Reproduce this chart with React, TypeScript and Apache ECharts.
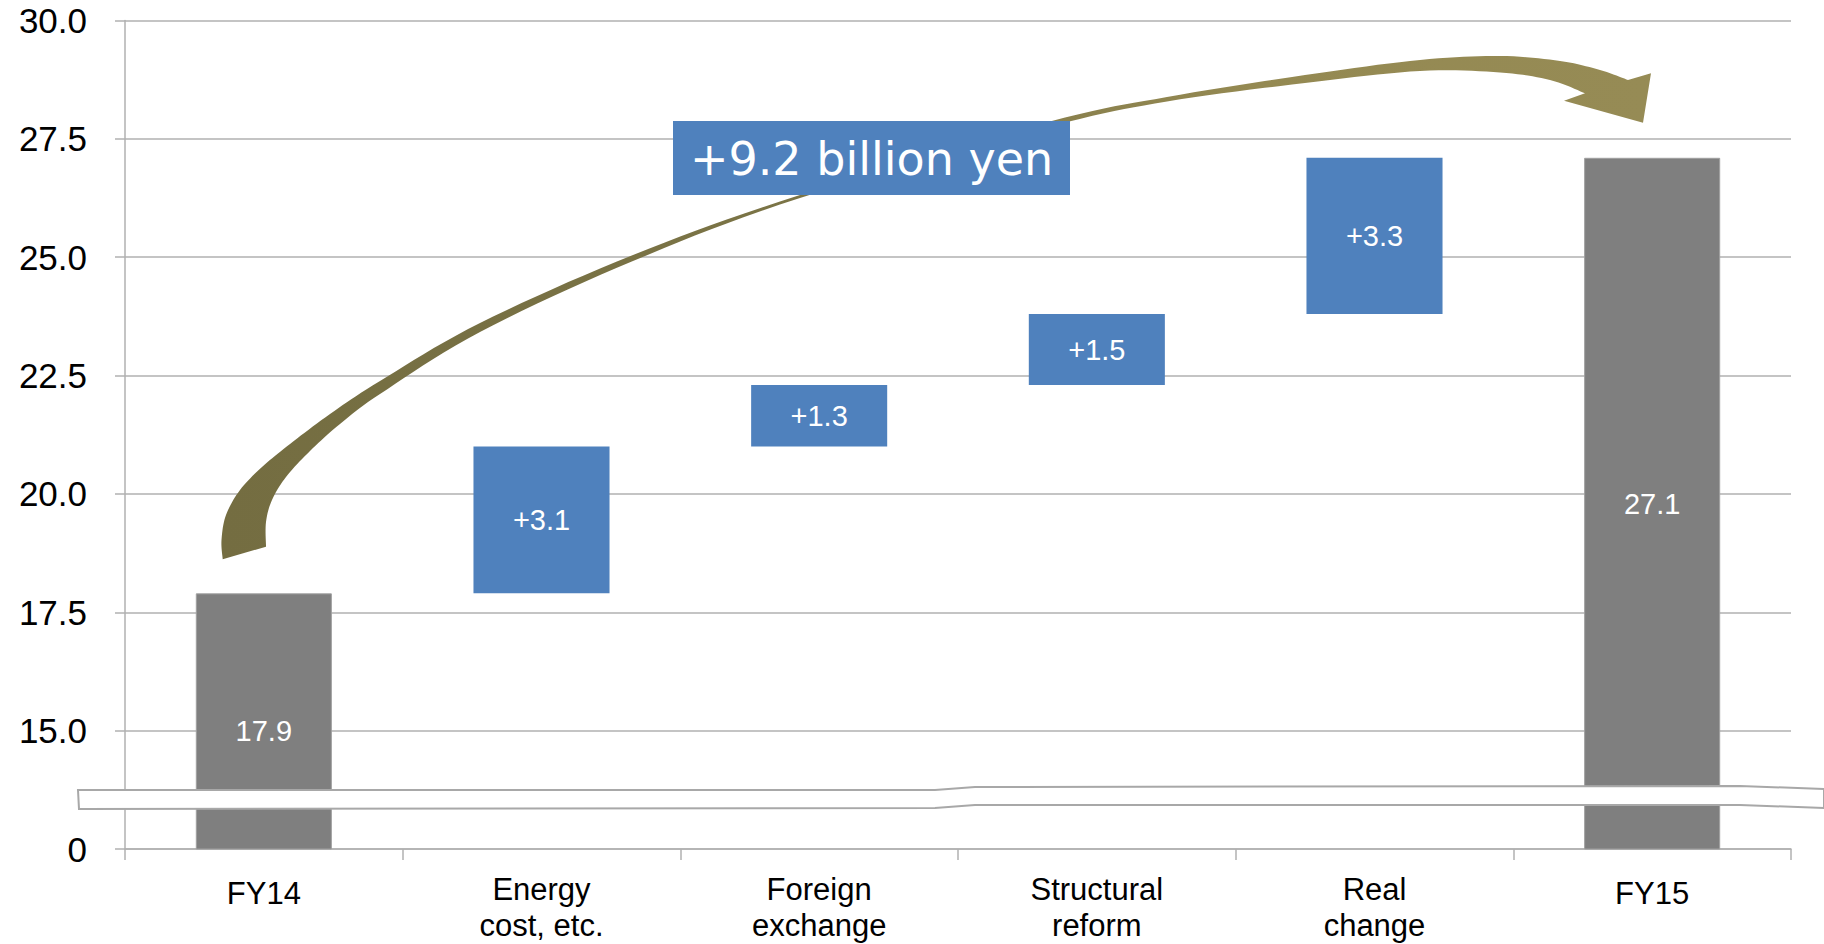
import { useEffect, useRef } from "react";
import * as echarts from "echarts";

// ---- data ----
const categories = [
  "FY14",
  "Energy\ncost, etc.",
  "Foreign\nexchange",
  "Structural\nreform",
  "Real\nchange",
  "FY15",
];
const startTotal = 17.9;
const changes = [3.1, 1.3, 1.5, 3.3];
const endTotal = 27.1;
const yTickLabels = ["0", "15.0", "17.5", "20.0", "22.5", "25.0", "27.5", "30.0"];
const annotationText = "+9.2 billion yen";

// ---- derived series for the waterfall ----
const visibleValues = [startTotal, ...changes, endTotal];
const baseValues: number[] = [0];
{
  let acc = startTotal;
  for (const c of changes) {
    baseValues.push(Math.round(acc * 10) / 10);
    acc += c;
  }
  baseValues.push(0);
}
const isTotal = (i: number) => i === 0 || i === visibleValues.length - 1;

const GRAY = "#7F7F7F";
const BLUE = "#4F81BD";
const GRID_C = "#B0B0B0";
const FONT = "'Liberation Sans', Arial, sans-serif";

// decorative arrow outline (pixel space), smoothed with Catmull-Rom
const arrowUpper: number[][] = [
  [222.7, 559.3], [221.5, 540], [226, 515], [240, 490], [262, 467], [290, 444],
  [330, 414], [380, 381], [480, 323], [633, 255], [800, 195], [1048, 122],
  [1167, 97], [1305, 75], [1420, 60], [1500, 56], [1560, 61], [1600, 70], [1628, 80],
];
const arrowHead: number[][] = [[1651, 73.3], [1643, 122.7], [1564, 100.7]];
const arrowLower: number[][] = [
  [1585, 93.3], [1550, 80], [1500, 72.5], [1420, 71], [1305, 83], [1167, 101.5],
  [1048, 127], [800, 198], [633, 261], [480, 332], [380, 394], [340, 424],
  [310, 451], [286, 477], [272, 500], [266, 522], [266, 546.7],
];

function spline(pts: number[][], n = 10): number[][] {
  const out: number[][] = [];
  for (let i = 0; i < pts.length - 1; i++) {
    const p0 = pts[Math.max(i - 1, 0)];
    const p1 = pts[i];
    const p2 = pts[i + 1];
    const p3 = pts[Math.min(i + 2, pts.length - 1)];
    for (let k = 0; k < n; k++) {
      const t = k / n;
      const t2 = t * t;
      const t3 = t2 * t;
      const f = (a: number, b: number, c: number, d: number) =>
        0.5 * (2 * b + (-a + c) * t + (2 * a - 5 * b + 4 * c - d) * t2 + (-a + 3 * b - 3 * c + d) * t3);
      out.push([f(p0[0], p1[0], p2[0], p3[0]), f(p0[1], p1[1], p2[1], p3[1])]);
    }
  }
  out.push(pts[pts.length - 1]);
  return out;
}

// axis break band
const breakBand: number[][] = [
  [78, 790], [935, 790], [975, 787], [1740, 786], [1824, 789],
  [1824, 808], [1740, 805], [975, 805], [935, 808], [79, 809],
];

export default function App() {
  const ref = useRef<HTMLDivElement>(null);

  useEffect(() => {
    if (!ref.current) return;
    const chart = echarts.init(ref.current, undefined, { renderer: "svg" });

    const arrowPoints = [...spline(arrowUpper), ...arrowHead, ...spline(arrowLower)];

    chart.setOption({
      animation: false,
      backgroundColor: "#ffffff",
      grid: {
        left: 125,
        right: 33,
        top: 20.5,
        bottom: 95,
        containLabel: false,
        outerBoundsMode: "none",
      },
      xAxis: {
        type: "category",
        data: categories,
        axisLine: { show: true, lineStyle: { color: GRID_C, width: 1.5 } },
        axisTick: { show: true, length: 11, lineStyle: { color: GRID_C, width: 1.5 } },
        axisLabel: {
          color: "#000",
          fontSize: 31,
          fontFamily: FONT,
          lineHeight: 36,
          margin: 22,
          interval: 0,
          formatter: (v: string) => (v.indexOf("\n") >= 0 ? v : "{s|" + v + "}"),
          rich: {
            s: {
              color: "#000",
              fontSize: 31,
              fontFamily: FONT,
              lineHeight: 36,
              padding: [8, 0, 0, 0],
            },
          },
        },
      },
      yAxis: {
        type: "value",
        min: 12.5,
        max: 30,
        interval: 2.5,
        axisLine: { show: true, lineStyle: { color: GRID_C, width: 1.5 } },
        axisTick: { show: true, length: 10, lineStyle: { color: GRID_C, width: 1.5 } },
        splitLine: { show: true, lineStyle: { color: GRID_C, width: 1.5 } },
        axisLabel: {
          color: "#000",
          fontSize: 35,
          fontFamily: FONT,
          margin: 38,
          formatter: (v: number, i: number) =>
            yTickLabels[i] !== undefined ? yTickLabels[i] : v.toFixed(1),
        },
      },
      series: [
        {
          type: "bar",
          stack: "w",
          silent: true,
          barWidth: "49%",
          itemStyle: { color: "transparent" },
          data: baseValues,
        },
        {
          type: "bar",
          stack: "w",
          barWidth: "49%",
          data: visibleValues.map((v, i) => ({
            value: v,
            itemStyle: isTotal(i)
              ? { color: GRAY, borderColor: "#A0A0A0", borderWidth: 1 }
              : { color: BLUE },
            label: i === 0 ? { offset: [0, 10] } : undefined,
          })),
          label: {
            show: true,
            position: "inside",
            color: "#fff",
            fontSize: 29,
            fontFamily: FONT,
            formatter: (p: any) =>
              isTotal(p.dataIndex) ? p.value.toFixed(1) : "+" + p.value.toFixed(1),
          },
        },
      ],
      graphic: [
        {
          type: "polygon",
          z: 100,
          shape: { points: breakBand },
          style: { fill: "#ffffff", stroke: "#A8A8A8", lineWidth: 2 },
        },
        {
          type: "polygon",
          z: 101,
          shape: { points: arrowPoints },
          style: {
            fill: {
              type: "linear",
              x: 0,
              y: 0,
              x2: 1,
              y2: 0,
              colorStops: [
                { offset: 0, color: "#746D41" },
                { offset: 0.4, color: "#7B7446" },
                { offset: 0.72, color: "#948952" },
                { offset: 1, color: "#968B55" },
              ],
            },
          },
        },
        {
          type: "rect",
          z: 102,
          shape: { x: 673, y: 121, width: 397, height: 74 },
          style: { fill: BLUE },
        },
        {
          type: "text",
          z: 103,
          x: 871.5,
          y: 159,
          style: {
            text: annotationText,
            fill: "#ffffff",
            font: "46px 'DejaVu Sans', Verdana, sans-serif",
            align: "center",
            verticalAlign: "middle",
            textAlign: "center",
            textVerticalAlign: "middle",
          },
        },
      ],
    });

    return () => chart.dispose();
  }, []);

  return (
    <div
      ref={ref}
      style={{ position: "absolute", left: 0, top: 0, width: 1824, height: 944 }}
    />
  );
}
